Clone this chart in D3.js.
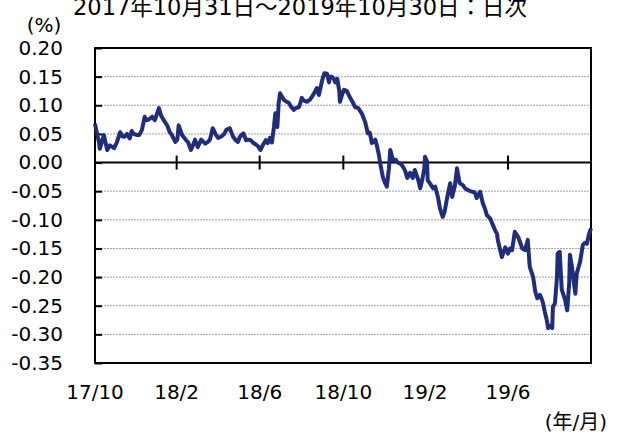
<!DOCTYPE html>
<html>
<head>
<meta charset="utf-8">
<script src="https://cdn.jsdelivr.net/npm/d3@7"></script>
<style>
body { margin: 0; background: #fff; }
text { font-family: "DejaVu Sans", Verdana, "Noto Sans CJK JP", sans-serif; fill: #000; }
</style>
</head>
<body>
<div id="chart"></div>
<script>
// daily spread (date / %)
var dates = [
  "2017-10-31","2017-11-03","2017-11-06","2017-11-07","2017-11-10","2017-11-13","2017-11-18","2017-11-22","2017-11-28","2017-12-02",
  "2017-12-07","2017-12-10","2017-12-13","2017-12-17","2017-12-21","2017-12-24","2017-12-27","2018-01-01","2018-01-04","2018-01-08",
  "2018-01-12","2018-01-15","2018-01-18","2018-01-23","2018-01-27","2018-01-30","2018-02-02","2018-02-05","2018-02-09","2018-02-14",
  "2018-02-18","2018-02-21","2018-02-26","2018-03-01","2018-03-03","2018-03-08","2018-03-14","2018-03-17","2018-03-21","2018-03-24",
  "2018-03-27","2018-03-31","2018-04-05","2018-04-11","2018-04-15","2018-04-18","2018-04-22","2018-04-27","2018-04-30","2018-05-04",
  "2018-05-09","2018-05-12","2018-05-17","2018-05-22","2018-05-25","2018-05-29","2018-06-01","2018-06-06","2018-06-10","2018-06-13",
  "2018-06-17","2018-06-20","2018-06-25","2018-06-28","2018-07-01","2018-07-05","2018-07-09","2018-07-12","2018-07-15","2018-07-18",
  "2018-07-21","2018-07-23","2018-07-26","2018-07-28","2018-07-30","2018-08-02","2018-08-05","2018-08-09","2018-08-12","2018-08-15",
  "2018-08-19","2018-08-22","2018-08-27","2018-08-31","2018-09-03","2018-09-08","2018-09-12","2018-09-15","2018-09-19","2018-09-22",
  "2018-09-25","2018-09-30","2018-10-03","2018-10-07","2018-10-10","2018-10-11","2018-10-14","2018-10-17","2018-10-19","2018-10-22",
  "2018-10-25","2018-10-26","2018-10-29","2018-11-01","2018-11-05","2018-11-10","2018-11-14","2018-11-17","2018-11-22","2018-11-27",
  "2018-12-02","2018-12-06","2018-12-09","2018-12-12","2018-12-17","2018-12-19","2018-12-22","2018-12-24","2018-12-28","2018-12-31",
  "2019-01-03","2019-01-06","2019-01-08","2019-01-12","2019-01-16","2019-01-19","2019-01-24","2019-01-27","2019-01-30","2019-02-02",
  "2019-02-06","2019-02-10","2019-02-13","2019-02-18","2019-02-21","2019-02-24","2019-02-27","2019-02-28","2019-03-03","2019-03-04",
  "2019-03-07","2019-03-12","2019-03-15","2019-03-19","2019-03-22","2019-03-26","2019-03-29","2019-04-01","2019-04-06","2019-04-09",
  "2019-04-13","2019-04-16","2019-04-19","2019-04-20","2019-04-25","2019-04-28","2019-05-02","2019-05-08","2019-05-12","2019-05-15",
  "2019-05-20","2019-05-24","2019-05-27","2019-05-30","2019-06-04","2019-06-06","2019-06-11","2019-06-14","2019-06-15","2019-06-18",
  "2019-06-21","2019-06-26","2019-06-30","2019-07-03","2019-07-06","2019-07-10","2019-07-15","2019-07-18","2019-07-21","2019-07-25",
  "2019-07-28","2019-07-29","2019-08-01","2019-08-06","2019-08-09","2019-08-12","2019-08-16","2019-08-20","2019-08-23","2019-08-26",
  "2019-08-28","2019-08-31","2019-09-03","2019-09-04","2019-09-07","2019-09-10","2019-09-11","2019-09-14","2019-09-17","2019-09-22",
  "2019-09-25","2019-09-28","2019-09-29","2019-10-02","2019-10-07","2019-10-09","2019-10-14","2019-10-18","2019-10-21","2019-10-24",
  "2019-10-27","2019-10-30"
];
var values = [
  0.068,0.050,0.035,0.024,0.035,0.048,0.022,0.030,0.025,0.035,
  0.053,0.046,0.045,0.050,0.042,0.055,0.050,0.048,0.048,0.057,
  0.080,0.074,0.075,0.080,0.074,0.085,0.095,0.082,0.074,0.065,
  0.053,0.048,0.036,0.040,0.065,0.048,0.039,0.035,0.022,0.030,
  0.040,0.027,0.040,0.033,0.036,0.040,0.060,0.048,0.043,0.045,
  0.050,0.057,0.060,0.045,0.040,0.036,0.045,0.051,0.039,0.040,
  0.039,0.035,0.031,0.028,0.022,0.031,0.039,0.034,0.043,0.035,
  0.062,0.086,0.062,0.104,0.121,0.115,0.109,0.106,0.104,0.098,
  0.092,0.095,0.097,0.113,0.108,0.106,0.110,0.115,0.123,0.130,
  0.118,0.144,0.156,0.155,0.140,0.150,0.150,0.146,0.140,0.146,
  0.125,0.106,0.118,0.127,0.125,0.113,0.105,0.097,0.095,0.086,
  0.071,0.051,0.052,0.034,0.040,0.031,0.015,0.000,-0.025,-0.035,
  -0.042,-0.010,0.022,0.004,0.005,0.000,-0.003,-0.008,-0.015,-0.027,
  -0.018,-0.027,-0.013,-0.030,-0.045,-0.030,-0.010,0.010,0.002,-0.031,
  -0.036,-0.045,-0.042,-0.060,-0.080,-0.095,-0.085,-0.065,-0.036,-0.060,
  -0.040,-0.010,-0.030,-0.036,-0.040,-0.045,-0.048,-0.051,-0.052,-0.062,
  -0.051,-0.071,-0.080,-0.092,-0.098,-0.104,-0.118,-0.125,-0.135,-0.150,
  -0.165,-0.148,-0.159,-0.150,-0.153,-0.121,-0.130,-0.140,-0.150,-0.153,
  -0.140,-0.135,-0.182,-0.200,-0.225,-0.237,-0.231,-0.243,-0.260,-0.275,
  -0.289,-0.285,-0.289,-0.252,-0.246,-0.200,-0.159,-0.156,-0.222,-0.240,
  -0.258,-0.210,-0.161,-0.182,-0.229,-0.194,-0.173,-0.144,-0.140,-0.142,
  -0.125,-0.115
];
var yTicks = [0.20,0.15,0.10,0.05,0.00,-0.05,-0.10,-0.15,-0.20,-0.25,-0.30,-0.35];
var xTickDates = ["2017-10-31","2018-02-28","2018-06-30","2018-10-31","2019-02-28","2019-06-30","2019-10-30"];
var xTickLabels = ["17/10","18/2","18/6","18/10","19/2","19/6"];

var svgWidth = 617;
var svgHeight = 435;
var margin = { top: 48, right: 26, bottom: 72, left: 95 };
var chartWidth = svgWidth - margin.left - margin.right;
var chartHeight = svgHeight - margin.top - margin.bottom;

var parseDate = d3.timeParse("%Y-%m-%d");
var data = dates.map(function(d, i) { return { date: parseDate(d), v: values[i] }; });

var svg = d3.select("#chart")
  .append("svg")
  .attr("width", svgWidth)
  .attr("height", svgHeight)
  .style("display", "block");

var chartGroup = svg.append("g")
  .attr("transform", `translate(${margin.left}, ${margin.top})`);

var xScale = d3.scaleTime()
  .domain([parseDate(dates[0]), parseDate(dates[dates.length - 1])])
  .range([0, chartWidth]);
var yScale = d3.scaleLinear()
  .domain([-0.35, 0.20])
  .range([chartHeight, 0]);

// dotted grid
chartGroup.selectAll(".grid")
  .data(yTicks.filter(function(t) { return t !== 0 && t !== 0.20 && t !== -0.35; }))
  .enter()
  .append("line")
  .attr("class", "grid")
  .attr("x1", 0)
  .attr("x2", chartWidth)
  .attr("y1", d => yScale(d))
  .attr("y2", d => yScale(d))
  .attr("stroke", "#a0a0a0")
  .attr("stroke-width", 1)
  .attr("stroke-dasharray", "2,1");

// y axis, ticks pointing inward
var yAxis = d3.axisLeft(yScale)
  .tickValues(yTicks)
  .tickFormat(d => d.toFixed(2))
  .tickSize(-7)
  .tickSizeOuter(0)
  .tickPadding(32);

var yG = chartGroup.append("g").call(yAxis);
yG.selectAll("line").attr("stroke", "#000").attr("stroke-width", 2);
yG.select(".domain").remove();
yG.selectAll("text")
  .style("font-size", "20px")
  .style("font-family", "\"DejaVu Sans\", Verdana, sans-serif");

// frame
chartGroup.append("rect")
  .attr("x", 0)
  .attr("y", 0)
  .attr("width", chartWidth)
  .attr("height", chartHeight)
  .attr("fill", "none")
  .attr("stroke", "#000")
  .attr("stroke-width", 2);

// zero line with x ticks
var y0 = yScale(0);
chartGroup.append("line")
  .attr("x1", 0)
  .attr("x2", chartWidth)
  .attr("y1", y0)
  .attr("y2", y0)
  .attr("stroke", "#000")
  .attr("stroke-width", 2);

chartGroup.selectAll(".xtick")
  .data(xTickDates.slice(1))
  .enter()
  .append("line")
  .attr("class", "xtick")
  .attr("x1", d => xScale(parseDate(d)))
  .attr("x2", d => xScale(parseDate(d)))
  .attr("y1", y0 - 7)
  .attr("y2", y0 + 7)
  .attr("stroke", "#000")
  .attr("stroke-width", 2);

chartGroup.selectAll(".xlabel")
  .data(xTickLabels)
  .enter()
  .append("text")
  .attr("class", "xlabel")
  .attr("x", (d, i) => xScale(parseDate(xTickDates[i])))
  .attr("y", chartHeight + 29)
  .attr("dy", "0.35em")
  .attr("text-anchor", "middle")
  .style("font-size", "20px")
  .text(d => d);

// series
var line = d3.line()
  .x(d => xScale(d.date))
  .y(d => yScale(d.v));

chartGroup.append("path")
  .datum(data)
  .attr("d", line)
  .attr("fill", "none")
  .attr("stroke", "#1f2d7b")
  .attr("stroke-width", 4)
  .attr("stroke-linejoin", "round");

// labels
svg.append("text")
  .attr("x", 73)
  .attr("y", 15)
  .style("font-size", "22.5px")
  .text("2017年10月31日～2019年10月30日：日次");

svg.append("text")
  .attr("x", 44)
  .attr("y", 25)
  .attr("dy", "0.35em")
  .attr("text-anchor", "middle")
  .style("font-size", "20px")
  .text("(%)");

svg.append("text")
  .attr("x", 607)
  .attr("y", 422)
  .attr("dy", "0.35em")
  .attr("text-anchor", "end")
  .style("font-size", "20px")
  .text("(年/月)");
</script>
</body>
</html>
